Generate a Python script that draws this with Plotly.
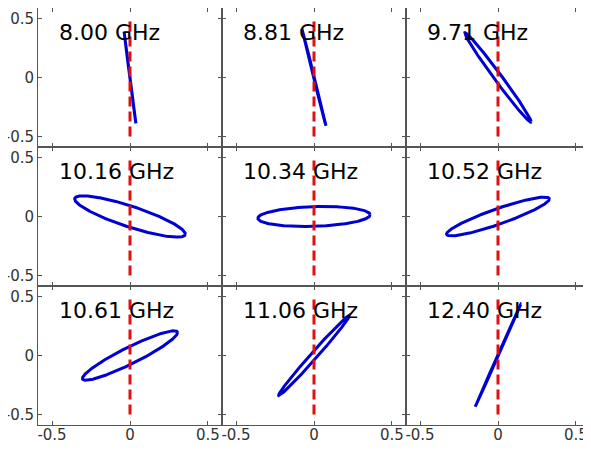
import numpy as np
import plotly.graph_objects as go
from plotly.subplots import make_subplots

# Panel labels (frequency)
freq_labels = ["8.00 GHz", "8.81 GHz", "9.71 GHz",
               "10.16 GHz", "10.34 GHz", "10.52 GHz",
               "10.61 GHz", "11.06 GHz", "12.40 GHz"]
# Polarization ellipse parameters (Jones form)
ex_amp = [0.038, 0.077, 0.213, 0.355, 0.360, 0.330, 0.305, 0.227, 0.146]
ey_amp = [0.390, 0.410, 0.380, 0.175, 0.085, 0.165, 0.210, 0.340, 0.435]
phase_deg = [178, 178, 172, 148, 80, 25, 22, 7, 1]

# Reference (vertical) line
ref_x = [0, 0]
ref_y = [-0.5, 0.5]

tick_vals = [-0.5, 0, 0.5]
tick_text = ["-0.5", "0", "0.5"]

fig = make_subplots(rows=3, cols=3, horizontal_spacing=0, vertical_spacing=0)

t = np.linspace(0, 2 * np.pi, 361)
for i in range(9):
    r, c = i // 3 + 1, i % 3 + 1
    ph = np.deg2rad(phase_deg[i])
    x = ex_amp[i] * np.cos(t)
    y = ey_amp[i] * np.cos(t + ph)
    fig.add_trace(go.Scatter(x=x, y=y, mode="lines",
                             line=dict(color="#0000d0", width=3),
                             showlegend=False, hoverinfo="skip"), row=r, col=c)
    fig.add_trace(go.Scatter(x=ref_x, y=ref_y, mode="lines",
                             line=dict(color="#e01010", width=3, dash="10px,5px"),
                             showlegend=False, hoverinfo="skip"), row=r, col=c)
    n = "" if i == 0 else str(i + 1)
    fig.add_annotation(text=freq_labels[i], x=-0.47, y=0.38,
                       xref="x" + n, yref="y" + n, xanchor="left", yanchor="middle",
                       showarrow=False, font=dict(size=22, color="black", family="DejaVu Sans"))

axis_common = dict(range=[-0.59, 0.59], tickvals=tick_vals, ticktext=tick_text,
                   ticks="inside", ticklen=4, tickcolor="#555", showline=True,
                   linecolor="#555", linewidth=1, mirror="ticks", showgrid=False,
                   zeroline=False, automargin=False, ticklabeloverflow="allow",
                   tickfont=dict(size=15, color="#333", family="DejaVu Sans"))

for i in range(9):
    r, c = i // 3 + 1, i % 3 + 1
    fig.update_xaxes(axis_common, showticklabels=(r == 3), ticklabelstandoff=-4,
                     row=r, col=c)
    fig.update_yaxes(axis_common, showticklabels=(c == 1), row=r, col=c)

fig.update_layout(width=591, height=442,
                  margin=dict(l=30, r=9, t=0, b=25),
                  paper_bgcolor="white", plot_bgcolor="white",
                  font=dict(family="DejaVu Sans"))

fig.write_html("out.html")
